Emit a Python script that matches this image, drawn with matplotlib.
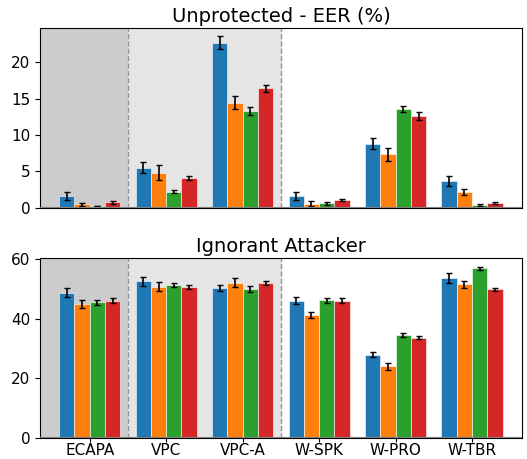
import numpy as np
import matplotlib.pyplot as plt

systems = ['ECAPA', 'VPC', 'VPC-A', 'W-SPK', 'W-PRO', 'W-TBR']
colors = ['#1f77b4', '#ff7f0e', '#2ca02c', '#d62728']

# EER (%) per system, four configurations each
eer_mean = [
    [1.6, 0.45, 0.2, 0.7],
    [5.5, 4.8, 2.2, 4.1],
    [22.7, 14.4, 13.3, 16.4],
    [1.6, 0.55, 0.6, 1.0],
    [8.8, 7.3, 13.6, 12.6],
    [3.6, 2.1, 0.35, 0.65],
]
eer_err = [
    [0.5, 0.2, 0.05, 0.2],
    [0.7, 1.0, 0.2, 0.3],
    [0.9, 0.9, 0.5, 0.5],
    [0.5, 0.3, 0.2, 0.15],
    [0.8, 0.9, 0.4, 0.6],
    [0.7, 0.4, 0.1, 0.15],
]
ign_mean = [
    [48.8, 45.0, 45.6, 46.1],
    [52.7, 50.8, 51.4, 50.8],
    [50.4, 52.1, 50.0, 52.1],
    [46.1, 41.3, 46.2, 46.1],
    [28.0, 24.0, 34.6, 33.7],
    [53.7, 51.6, 57.0, 49.9],
]
ign_err = [
    [1.5, 1.5, 0.8, 0.8],
    [1.5, 1.5, 0.8, 0.7],
    [1.1, 1.5, 0.9, 0.8],
    [1.2, 1.0, 0.8, 0.9],
    [0.8, 1.2, 0.6, 0.6],
    [1.6, 1.3, 0.6, 0.5],
]

fig, axes = plt.subplots(2, 1, figsize=(5.27, 4.59), dpi=100)
x = np.arange(len(systems))
w = 0.2

def draw(ax, mean, err, title):
    mean = np.array(mean)
    err = np.array(err)
    ax.axvspan(-0.65, 0.5, color='#cccccc', zorder=0)
    ax.axvspan(0.5, 2.5, color='#e5e5e5', zorder=0)
    for xv in [0.5, 2.5]:
        ax.axvline(xv, color='grey', ls='--', lw=1, alpha=0.8, zorder=1)
    for j in range(4):
        ax.bar(x + (j - 1.5) * w, mean[:, j], w, yerr=err[:, j], color=colors[j],
               edgecolor='white', linewidth=0.4, capsize=2,
               error_kw=dict(elinewidth=1.2, capthick=1), zorder=2)
    ax.axhline(0, color='grey', lw=1.5, zorder=3)
    ax.set_xlim(-0.65, 5.65)
    ax.set_title(title, fontsize=14, pad=4)
    ax.tick_params(labelsize=11)
    ax.set_xticks(x)

draw(axes[0], eer_mean, eer_err, 'Unprotected - EER (%)')
axes[0].set_xticklabels([])
axes[0].tick_params(axis='x', length=0)
axes[0].set_yticks([0, 5, 10, 15, 20])
draw(axes[1], ign_mean, ign_err, 'Ignorant Attacker')
axes[1].set_xticklabels(systems)
axes[1].tick_params(axis='x', length=3, pad=1)
axes[1].set_ylim(0, 60.5)
axes[1].set_yticks([0, 20, 40, 60])

fig.subplots_adjust(left=0.076, right=0.99, top=0.94, bottom=0.046, hspace=0.28)
fig.savefig('out.png')
